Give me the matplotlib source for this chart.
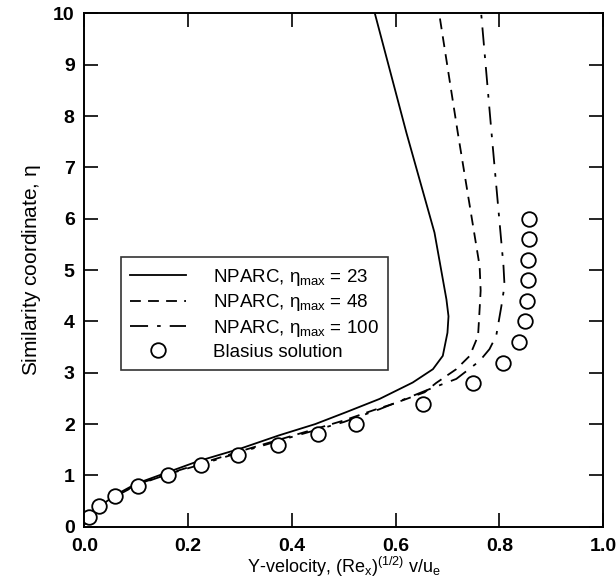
import numpy as np
import matplotlib.pyplot as plt

plt.rcParams['font.family'] = ['Liberation Sans', 'DejaVu Sans']
plt.rcParams['mathtext.fontset'] = 'custom'
plt.rcParams['mathtext.rm'] = 'Liberation Sans'
plt.rcParams['mathtext.it'] = 'Liberation Sans'

# NPARC, eta_max = 23 (solid)
solid_x = [0.0, 0.03, 0.06, 0.10, 0.16, 0.22, 0.30, 0.375, 0.445, 0.504, 0.569,
           0.633, 0.672, 0.691, 0.700, 0.702, 0.698, 0.675, 0.621, 0.56]
solid_y = [0.05, 0.40, 0.62, 0.84, 1.06, 1.28, 1.52, 1.78, 2.00, 2.23, 2.49,
           2.81, 3.07, 3.33, 3.78, 4.10, 4.43, 5.73, 7.67, 10.0]

# NPARC, eta_max = 48 (dashed)
dash_x = [0.0, 0.03, 0.06, 0.10, 0.16, 0.23, 0.30, 0.40, 0.50, 0.56, 0.594, 0.656,
          0.678, 0.717, 0.743, 0.759, 0.762, 0.764, 0.762, 0.72, 0.684]
dash_y = [0.05, 0.38, 0.60, 0.82, 1.03, 1.25, 1.47, 1.77, 2.07, 2.28, 2.39, 2.62,
          2.80, 3.07, 3.33, 3.72, 4.24, 4.60, 5.08, 7.67, 10.0]

# NPARC, eta_max = 100 (dash-dot)
dd_x = [0.0, 0.03, 0.06, 0.10, 0.16, 0.23, 0.30, 0.40, 0.50, 0.569, 0.665,
        0.717, 0.762, 0.781, 0.794, 0.804, 0.810, 0.808, 0.785, 0.765]
dd_y = [0.05, 0.38, 0.59, 0.81, 1.02, 1.23, 1.45, 1.75, 2.04, 2.29, 2.68,
        2.88, 3.23, 3.46, 3.72, 4.30, 4.70, 5.08, 7.67, 10.0]

# Blasius solution (circles)
blasius_x = [0.008, 0.029, 0.059, 0.103, 0.161, 0.225, 0.297, 0.373, 0.450, 0.523,
             0.653, 0.749, 0.807, 0.837, 0.849, 0.853, 0.855, 0.856, 0.857, 0.857]
blasius_y = [0.2, 0.4, 0.6, 0.8, 1.0, 1.2, 1.4, 1.6, 1.8, 2.0,
             2.4, 2.8, 3.2, 3.6, 4.0, 4.4, 4.8, 5.2, 5.6, 6.0]

xticks = [0.0, 0.2, 0.4, 0.6, 0.8, 1.0]
yticks = list(range(0, 11))

fig = plt.figure(figsize=(6.16, 5.84), dpi=100)
ax = fig.add_axes([0.137, 0.098, 0.842, 0.879])

ax.plot(solid_x, solid_y, color='black', linewidth=1.3, linestyle='-',
        label=r'NPARC, $\eta_{max}$ = 23')
ax.plot(dash_x, dash_y, color='black', linewidth=1.3, linestyle=(0, (6, 4)),
        label=r'NPARC, $\eta_{max}$ = 48')
ax.plot(dd_x, dd_y, color='black', linewidth=1.3, linestyle=(0, (10, 5, 2, 5)),
        label=r'NPARC, $\eta_{max}$ = 100')
ax.plot(blasius_x, blasius_y, linestyle='none', marker='o', markersize=10.5,
        markerfacecolor='white', markeredgecolor='black', markeredgewidth=1.3,
        label='Blasius solution')

ax.set_xlim(0, 1.0)
ax.set_ylim(0, 10)
ax.set_xticks(xticks)
ax.set_yticks(yticks)
ax.set_xticklabels([f'{t:.1f}' for t in xticks], fontweight='bold', fontsize=14)
ax.set_yticklabels([str(t) for t in yticks], fontweight='bold', fontsize=14)
ax.tick_params(direction='in', length=10, width=1.2, top=True, right=True)
ax.tick_params(axis='x', pad=8)
ax.tick_params(axis='y', pad=7)
for sp in ax.spines.values():
    sp.set_linewidth(1.4)

ax.set_xlabel(r'Y-velocity, (Re$_x$)$^{(1/2)}$ v/u$_e$', fontsize=13, labelpad=0)
ax.set_ylabel(r'Similarity coordinate, $\eta$', fontsize=15, labelpad=7)

# legend box placed like the reference
leg = ax.legend(loc='upper left', bbox_to_anchor=(0.07, 0.525), borderaxespad=0,
                fontsize=13.5, frameon=True, fancybox=False, edgecolor='black',
                handlelength=3.0, borderpad=0.5, labelspacing=0.25,
                handletextpad=1.4)
leg.get_frame().set_linewidth(1.2)

fig.savefig('out.png', dpi=100)
